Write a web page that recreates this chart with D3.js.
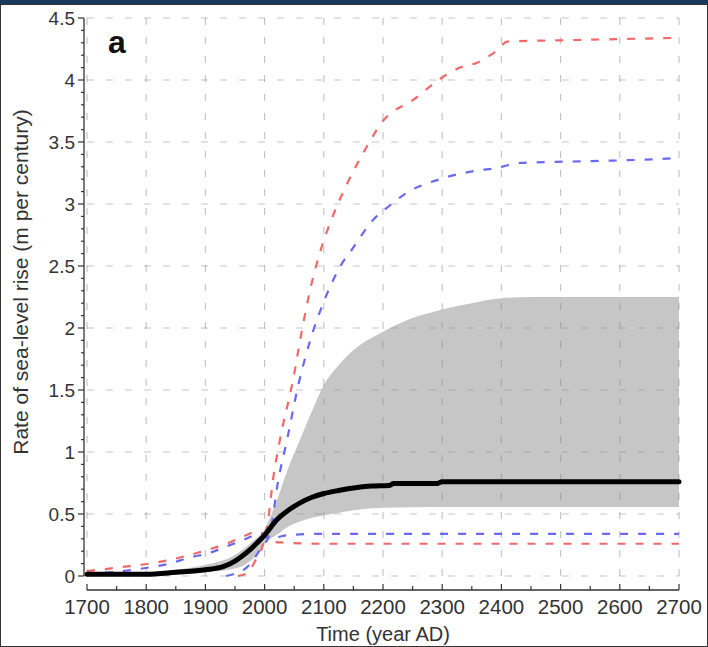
<!DOCTYPE html>
<html><head><meta charset="utf-8">
<script src="https://cdn.jsdelivr.net/npm/d3@7/dist/d3.min.js"></script>
<style>
html,body{margin:0;padding:0;background:#fff;}
svg{display:block;font-family:"Liberation Sans",Arial,sans-serif;}
</style></head>
<body>
<svg id="chart" width="708" height="647"></svg>
<script>
// ---- data ----
const yTicks = [0,0.5,1,1.5,2,2.5,3,3.5,4,4.5];
const yTickLabels = ["0","0.5","1","1.5","2","2.5","3","3.5","4","4.5"];
const xTicks = [1700,1800,1900,2000,2100,2200,2300,2400,2500,2600,2700];
const xTickLabels = ["1700","1800","1900","2000","2100","2200","2300","2400","2500","2600","2700"];

const medianYears = [1700,1750,1800,1850,1900,1930,1950,1970,1990,2000,2010,2020,2040,2060,2080,2100,2125,2150,2180,2210,2218,2290,2300,2700];
const medianVals  = [0.015,0.015,0.015,0.03,0.05,0.075,0.12,0.19,0.28,0.33,0.39,0.45,0.53,0.59,0.635,0.665,0.69,0.71,0.725,0.73,0.745,0.745,0.76,0.76];

const bandYears = [1700,1800,1850,1900,1950,1980,2000,2010,2020,2040,2060,2080,2100,2125,2150,2200,2250,2300,2350,2400,2450,2700];
const bandLow   = [0,0,0.01,0.03,0.06,0.14,0.26,0.3,0.33,0.4,0.44,0.47,0.49,0.51,0.53,0.55,0.555,0.556,0.556,0.556,0.556,0.556];
const bandHigh  = [0.02,0.03,0.05,0.09,0.17,0.28,0.38,0.48,0.6,0.87,1.1,1.33,1.54,1.7,1.82,1.97,2.08,2.15,2.2,2.24,2.25,2.25];

const redUpperYears = [1955,1970,1985,2000,2006,2014,2026,2048,2063,2077,2093,2115,2139,2170,2200,2251,2300,2330,2359,2393,2410,2500,2600,2700];
const redUpperVals  = [0,0.02,0.13,0.3,0.45,0.77,1.1,1.58,1.98,2.31,2.6,2.9,3.16,3.44,3.67,3.84,4.02,4.1,4.14,4.24,4.31,4.32,4.33,4.34];

const blueUpperYears = [1935,1950,1970,1992,2009,2023,2038,2056,2077,2099,2127,2150,2183,2212,2240,2296,2359,2393,2427,2494,2588,2690,2700];
const blueUpperVals  = [0,0.02,0.07,0.21,0.35,0.77,1.1,1.52,1.9,2.2,2.49,2.65,2.87,2.99,3.09,3.2,3.27,3.29,3.33,3.34,3.35,3.37,3.38];

const redLowerYears = [1700,1738,1772,1806,1840,1874,1903,1936,1964,1990,2000,2010,2030,2100,2700];
const redLowerVals  = [0.04,0.06,0.08,0.1,0.13,0.17,0.21,0.26,0.32,0.36,0.33,0.28,0.27,0.26,0.26];

const blueLowerYears = [1700,1738,1806,1840,1874,1903,1936,1964,1992,2005,2015,2040,2100,2700];
const blueLowerVals  = [0.02,0.03,0.07,0.1,0.15,0.18,0.24,0.29,0.34,0.31,0.31,0.33,0.34,0.34];

// ---- layout ----
const svg = d3.select("#chart");
const x = d3.scaleLinear().domain([1700,2700]).range([87,679]);
const y = d3.scaleLinear().domain([0,4.5]).range([576,18]);
const zip = (xs, vs) => xs.map((d,i)=>[d, vs[i]]);

// frame
svg.append("rect").attr("x",0).attr("y",0).attr("width",708).attr("height",647).attr("fill","#fff");
svg.append("rect").attr("x",0).attr("y",0).attr("width",708).attr("height",4).attr("fill","#17395c");
svg.append("rect").attr("x",0.5).attr("y",4.5).attr("width",707).attr("height",642).attr("fill","none").attr("stroke","#333").attr("stroke-width",1);

// band
const area = d3.area().x(d=>x(d[0])).y0(d=>y(d[1])).y1(d=>y(d[2])).curve(d3.curveMonotoneX);
svg.append("path").datum(bandYears.map((d,i)=>[d,bandLow[i],bandHigh[i]]))
  .attr("d",area).attr("fill","#c6c6c6");

// grid
const grid = svg.append("g").attr("stroke","rgba(140,140,140,0.5)").attr("stroke-width",1.2).attr("stroke-dasharray","7,12");
grid.selectAll("line.h").data(yTicks).join("line").attr("class","h")
  .attr("x1",x(1700)).attr("x2",x(2700)).attr("y1",d=>y(d)).attr("y2",d=>y(d));
grid.selectAll("line.v").data(xTicks).join("line").attr("class","v")
  .attr("x1",d=>x(d)).attr("x2",d=>x(d)).attr("y1",y(4.5)).attr("y2",y(0));

// lines
const line = d3.line().x(d=>x(d[0])).y(d=>y(d[1])).curve(d3.curveMonotoneX);
const dashed = [
  [zip(redLowerYears, redLowerVals), "#f06868"],
  [zip(blueLowerYears, blueLowerVals), "#6868f0"],
  [zip(redUpperYears, redUpperVals), "#f06868"],
  [zip(blueUpperYears, blueUpperVals), "#6868f0"]
];
dashed.forEach(([data,col])=>{
  svg.append("path").datum(data).attr("d",line).attr("fill","none")
    .attr("stroke",col).attr("stroke-width",2.2).attr("stroke-dasharray","8,10");
});
svg.append("path").datum(zip(medianYears, medianVals)).attr("d",line).attr("fill","none")
  .attr("stroke","#000").attr("stroke-width",5).attr("stroke-linecap","round");

// axes
const axCol = "#333";
const yg = svg.append("g").attr("transform","translate(84,0)");
yg.append("line").attr("x1",0).attr("x2",0).attr("y1",y(4.5)).attr("y2",y(0)).attr("stroke",axCol).attr("stroke-width",1.3);
yg.selectAll("line.mt").data(d3.range(0,46)).join("line").attr("class","mt")
  .attr("x1",d=> d%5===0 ? -6 : -3).attr("x2",0)
  .attr("y1",d=>y(d/10)).attr("y2",d=>y(d/10)).attr("stroke",axCol).attr("stroke-width",1.2);
yg.selectAll("text").data(yTicks).join("text")
  .attr("x",-9).attr("y",d=>y(d)).attr("dy","0.35em").attr("text-anchor","end")
  .attr("font-size",19).attr("fill","#333").text((d,i)=>yTickLabels[i]);

const xg = svg.append("g").attr("transform","translate(0,590)");
xg.append("line").attr("x1",x(1700)).attr("x2",x(2700)).attr("y1",0).attr("y2",0).attr("stroke",axCol).attr("stroke-width",1.3);
xg.selectAll("line.mt").data(d3.range(0,21)).join("line").attr("class","mt")
  .attr("x1",d=>x(1700+d*50)).attr("x2",d=>x(1700+d*50))
  .attr("y1",d=> d%2===0 ? -6 : -4).attr("y2",0).attr("stroke",axCol).attr("stroke-width",1.2);
xg.selectAll("text").data(xTicks).join("text")
  .attr("x",d=>x(d)).attr("y",24).attr("text-anchor","middle")
  .attr("font-size",20.5).attr("fill","#333").text((d,i)=>xTickLabels[i]);

svg.append("text").attr("x",383).attr("y",641).attr("text-anchor","middle")
  .attr("font-size",20).attr("fill","#333").text("Time (year AD)");
svg.append("text").attr("transform","translate(28,282) rotate(-90)").attr("text-anchor","middle")
  .attr("font-size",21).attr("fill","#333").text("Rate of sea-level rise (m per century)");
svg.append("text").attr("x",108).attr("y",53).attr("font-size",32).attr("font-weight","bold").attr("fill","#111").text("a");
</script>
</body></html>
